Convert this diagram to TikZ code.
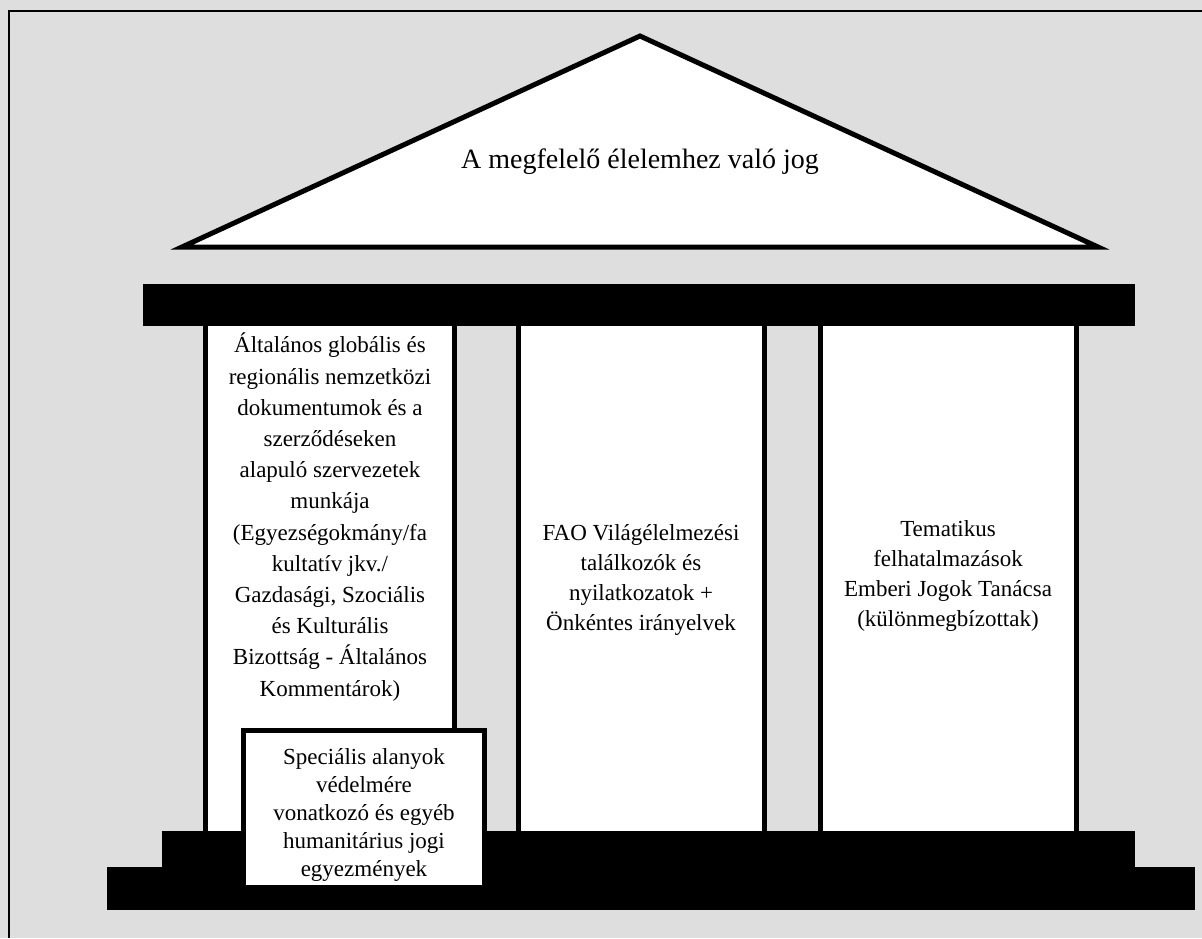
\documentclass[tikz,border=0pt]{standalone}
\usepackage{fontspec}
\setmainfont{Liberation Serif}
\usepackage{tikz}
\definecolor{bggray}{HTML}{DEDEDE}

\begin{document}
\begin{tikzpicture}[x=1pt,y=-1pt,
  pillar/.style={draw,fill=white,line width=5pt,minimum height=515pt,inner sep=0pt},
  txt/.style={align=center,font=\fontsize{23}{30}\selectfont}]

\useasboundingbox (0,0) rectangle (1202,938);
\fill[bggray] (0,0) rectangle (1202,938);
\draw[line width=2pt] (9,938) -- (9,11) -- (1202,11);

% roof
\draw[line width=5pt,fill=white] (182,247) -- (640,36) -- (1098,247) -- cycle;
\node[txt,font=\fontsize{28}{34}\selectfont] (roof) at (640,162) {A megfelelő élelemhez való jog};

% pillars
\node[pillar,minimum width=249pt] (p1) at (330,577.5) {};
\node[pillar,minimum width=246pt] (p2) at (641.5,577.5) {};
\node[pillar,minimum width=256pt] (p3) at (948.5,577.5) {};

% beam and steps
\fill (143,284) rectangle (1135,326);
\fill (162,831) rectangle (1135,870);
\fill (107,867) rectangle (1195,910);

\node[txt,font=\fontsize{23}{31.2}\selectfont] (t1) at (330,517) {Általános globális és\\regionális nemzetközi\\dokumentumok és a\\szerződéseken\\alapuló szervezetek\\munkája\\(Egyezségokmány/fa\\kultatív jkv./\\Gazdasági, Szociális\\és Kulturális\\Bizottság - Általános\\Kommentárok)};
\node[txt] (t2) at (641,580) {FAO Világélelmezési\\találkozók és\\nyilatkozatok +\\Önkéntes irányelvek};
\node[txt] (t3) at (948,576) {Tematikus\\felhatalmazások\\Emberi Jogok Tanácsa\\(különmegbízottak)};

% special box
\node[draw,fill=white,line width=5pt,minimum width=241pt,minimum height=157pt,inner sep=0pt] (spec) at (364,809) {};
\node[txt,font=\fontsize{23}{28}\selectfont] (t4) at (364,815) {Speciális alanyok\\védelmére\\vonatkozó és egyéb\\humanitárius jogi\\egyezmények};

\end{tikzpicture}
\end{document}
